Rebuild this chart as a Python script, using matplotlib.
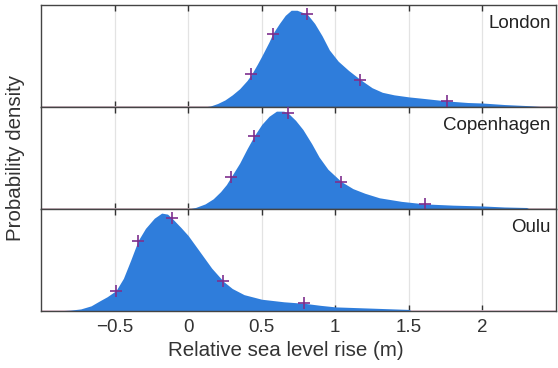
import numpy as np
import matplotlib.pyplot as plt

plt.rcParams['font.family'] = ['Liberation Sans', 'DejaVu Sans']

# density curves (relative height, per city)
london_x = [-0.15, 0.10, 0.15, 0.20, 0.25, 0.30, 0.35, 0.40, 0.43, 0.47, 0.50, 0.55, 0.575, 0.62, 0.66,
            0.70, 0.74, 0.81, 0.86, 0.91, 0.96, 1.02, 1.09, 1.17, 1.25, 1.32, 1.40, 1.50, 1.60, 1.76,
            1.90, 2.00, 2.15, 2.30, 2.40, 2.50]
london_y = [0.00, 0.00, 0.01, 0.035, 0.07, 0.12, 0.18, 0.26, 0.32, 0.42, 0.50, 0.64, 0.72, 0.82, 0.90,
            0.95, 0.95, 0.91, 0.82, 0.70, 0.56, 0.45, 0.36, 0.27, 0.19, 0.145, 0.12, 0.10, 0.085, 0.06,
            0.045, 0.04, 0.025, 0.015, 0.005, 0.00]

copen_x = [0.00, 0.05, 0.115, 0.17, 0.22, 0.26, 0.29, 0.35, 0.40, 0.45, 0.50, 0.55, 0.60, 0.65, 0.68,
           0.73, 0.78, 0.84, 0.89, 0.95, 1.04, 1.12, 1.20, 1.30, 1.45, 1.61, 1.80, 2.00, 2.15, 2.30,
           2.32, 2.50]
copen_y = [0.00, 0.015, 0.05, 0.10, 0.17, 0.24, 0.31, 0.45, 0.59, 0.72, 0.83, 0.91, 0.96, 0.96, 0.94,
           0.87, 0.78, 0.64, 0.51, 0.39, 0.27, 0.20, 0.155, 0.11, 0.075, 0.05, 0.038, 0.03, 0.02, 0.015,
           0.00, 0.00]

oulu_x = [-0.90, -0.80, -0.73, -0.66, -0.60, -0.55, -0.49, -0.44, -0.39, -0.34, -0.29, -0.23, -0.18,
          -0.14, -0.11, -0.05, 0.00, 0.05, 0.10, 0.16, 0.24, 0.30, 0.38, 0.50, 0.65, 0.79, 0.90, 1.00,
          1.20, 1.40, 1.50, 1.52, 1.80]
oulu_y = [0.00, 0.008, 0.02, 0.05, 0.10, 0.14, 0.20, 0.32, 0.50, 0.69, 0.81, 0.91, 0.96,
          0.95, 0.91, 0.82, 0.74, 0.64, 0.54, 0.42, 0.29, 0.22, 0.16, 0.115, 0.09, 0.075, 0.055, 0.04,
          0.03, 0.02, 0.015, 0.00, 0.00]

# quantile markers
london_q = [0.43, 0.575, 0.81, 1.17, 1.76]
copen_q = [0.29, 0.45, 0.68, 1.04, 1.61]
oulu_q = [-0.49, -0.34, -0.11, 0.24, 0.79]

cities = ['London', 'Copenhagen', 'Oulu']
curves = [(london_x, london_y, london_q), (copen_x, copen_y, copen_q), (oulu_x, oulu_y, oulu_q)]
xticks = [-0.5, 0, 0.5, 1, 1.5, 2]
xticklabels = ['\u22120.5', '0', '0.5', '1', '1.5', '2']

fig, axes = plt.subplots(3, 1, figsize=(5.58, 3.68), dpi=100, sharex=True)
fig.subplots_adjust(left=0.0735, right=0.9964, bottom=0.155, top=0.986, hspace=0)

blue = '#2F7DDB'
purple = '#7E2F8E'
for ax, name, (cx, cy, q) in zip(axes, cities, curves):
    xx = np.array(cx)
    yy = np.array(cy)
    ax.plot([-1, 2.5], [0.004, 0.004], color='#E8C8D8', lw=1.2, zorder=1)
    ax.fill_between(xx, 0, yy, color=blue, lw=0, zorder=2)
    ax.plot(q, np.interp(q, xx, yy), '+', color=purple, ms=9, mew=1.2, zorder=3)
    ax.set_xlim(-1, 2.5)
    ax.set_ylim(0, 1.0)
    ax.set_yticks([])
    ax.set_xticks(xticks)
    ax.grid(axis='x', color='#E3E3E3', lw=0.9, zorder=0)
    ax.set_axisbelow(True)
    ax.tick_params(axis='x', direction='in', top=True, bottom=True, length=4,
                   width=1, color='#333333', labelsize=13.5, pad=6, labelcolor='#333333')
    for s in ax.spines.values():
        s.set_color('#444444')
        s.set_linewidth(1.0)
    ax.text(0.99, 0.9, name, transform=ax.transAxes, ha='right', va='top', fontsize=13.5,
            color='#222222')

axes[-1].set_xticklabels(xticklabels)
axes[-1].set_xlabel('Relative sea level rise (m)', fontsize=14.8, color='#333333')
axes[-1].xaxis.set_label_coords(0.476, -0.29)
fig.text(0.028, 0.57, 'Probability density', rotation=90, ha='center', va='center',
         fontsize=14.8, color='#333333')

plt.savefig('out.png', dpi=100)
